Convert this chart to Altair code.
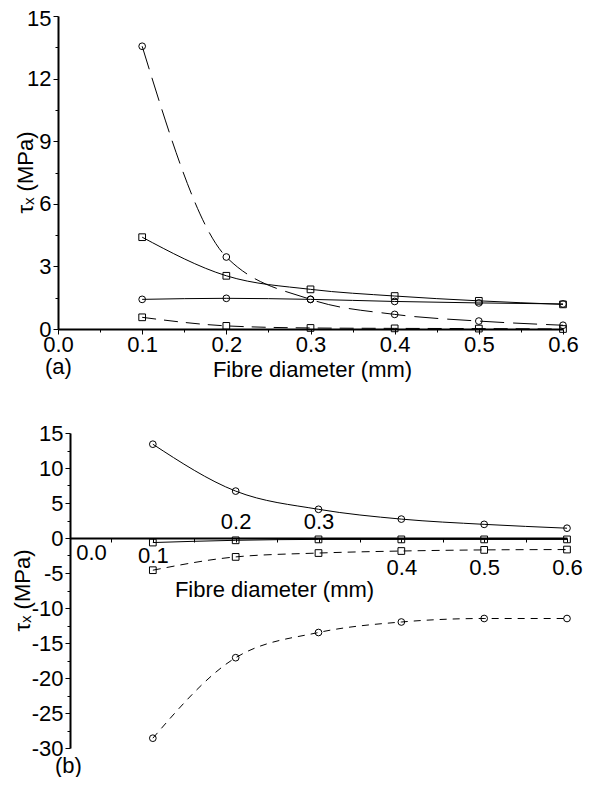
import altair as alt
import pandas as pd

FONT = "Liberation Sans"
FS = 22

diameter = [0.1, 0.2, 0.3, 0.4, 0.5, 0.6]

# panel (a)
a_circle_dashed = [13.55, 3.45, 1.42, 0.70, 0.38, 0.18]
a_square_solid = [4.40, 2.55, 1.90, 1.58, 1.35, 1.18]
a_circle_solid = [1.42, 1.47, 1.42, 1.32, 1.25, 1.20]
a_square_dashed = [0.56, 0.15, 0.05, 0.03, 0.02, 0.00]

# panel (b)
b_circle_solid = [13.4, 6.7, 4.1, 2.7, 1.95, 1.4]
b_square_solid = [-0.65, -0.33, -0.2, -0.2, -0.2, -0.2]
b_square_dashed = [-4.6, -2.7, -2.15, -1.86, -1.7, -1.65]
b_circle_dashed = [-28.6, -17.1, -13.5, -12.0, -11.5, -11.5]

x_ticks = [0, 0.05, 0.1, 0.15, 0.2, 0.25, 0.3, 0.35, 0.4, 0.45, 0.5, 0.55, 0.6]
a_y_ticks = [0, 1.5, 3, 4.5, 6, 7.5, 9, 10.5, 12, 13.5, 15]
b_y_ticks = [-30, -27.5, -25, -22.5, -20, -17.5, -15, -12.5, -10, -7.5, -5, -2.5,
             0, 2.5, 5, 7.5, 10, 12.5, 15]

title_txt = "Fibre diameter (mm)"
y_title = "τₓ (MPa)"


def long_df(series):
    rows = []
    for name, vals in series.items():
        for d, v in zip(diameter, vals):
            rows.append({"d": d, "tau": v, "s": name})
    return pd.DataFrame(rows)


dfa = long_df({"c_dash": a_circle_dashed, "s_solid": a_square_solid,
               "c_solid": a_circle_solid, "s_dash": a_square_dashed})
dfb = long_df({"c_solid": b_circle_solid, "s_solid": b_square_solid,
               "s_dash": b_square_dashed, "c_dash": b_circle_dashed})

common_axis = dict(grid=False, domainColor="black", domainWidth=2, tickColor="black",
                   tickWidth=1, labelColor="black", labelFont=FONT, labelFontSize=FS,
                   titleFont=FONT, titleFontSize=FS, titleFontWeight="normal",
                   titleColor="black")

major_x = "round(datum.value*100) % 10 === 0"

# ---- top panel
xa = alt.X("d:Q", scale=alt.Scale(domain=[0, 0.6], nice=False),
           axis=alt.Axis(values=x_ticks,
                         labelExpr=f"{major_x} ? format(datum.value, '.1f') : ''",
                         tickSize={"condition": {"test": major_x, "value": 5}, "value": 3},
                         labelPadding=0, labelFlush=False, labelOverlap=False,
                         title=title_txt, titleBaseline="middle", titleAlign="center",
                         titleX=254, titleY=40, **common_axis))
ya = alt.Y("tau:Q", scale=alt.Scale(domain=[0, 15], nice=False),
           axis=alt.Axis(values=a_y_ticks,
                         labelExpr="datum.value % 3 === 0 ? '' + datum.value : ''",
                         tickSize={"condition": {"test": "datum.value % 3 === 0", "value": 5}, "value": 3},
                         labelOffset={"condition": {"test": "datum.value === 15", "value": 2}, "value": 0},
                         labelPadding=2, labelFlush=False, labelOverlap=False,
                         title=y_title, titleAngle=270, titleBaseline="middle",
                         titleAlign="center", titleX=-33, titleY=156, **common_axis))

# ---- bottom panel
xb = alt.X("d:Q", scale=alt.Scale(domain=[0, 0.6], range=[12, 509], nice=False),
           axis=alt.Axis(values=x_ticks,
                         labelExpr=f"{major_x} ? format(datum.value, '.1f') : ''",
                         tickSize=4, offset=-210,
                         labelPadding={"condition": [
                             {"test": "datum.value < 0.01", "value": 0},
                             {"test": "datum.value < 0.15", "value": 3},
                             {"test": "datum.value < 0.35", "value": -31}],
                             "value": 15},
                         labelOffset={"condition": {"test": "datum.value < 0.01", "value": 21}, "value": 0},
                         labelFlush=False, labelOverlap=False,
                         title=title_txt, titleBaseline="middle", titleAlign="center",
                         titleX=216, titleY=51, **common_axis))
yb = alt.Y("tau:Q", scale=alt.Scale(domain=[-30, 15], nice=False),
           axis=alt.Axis(values=b_y_ticks, offset=-12,
                         labelExpr="datum.value % 5 === 0 ? '' + datum.value : ''",
                         tickSize={"condition": {"test": "datum.value % 5 === 0", "value": 5}, "value": 3},
                         labelPadding=2, labelFlush=False, labelOverlap=False,
                         title=y_title, titleAngle=270, titleBaseline="middle",
                         titleAlign="center", titleX=-48, titleY=157, **common_axis))


def panel(df, xe, ye, specs):
    layers = []
    for name, shape, dash in specs:
        base = alt.Chart(df).transform_filter(alt.datum.s == name).encode(x=xe, y=ye)
        kw = {"color": "black", "strokeWidth": 1, "interpolate": "monotone"}
        if dash:
            kw["strokeDash"] = dash
        layers.append(base.mark_line(**kw))
        layers.append(base.mark_point(shape=shape, filled=False, color="black",
                                      size=45, strokeWidth=1, opacity=1))
    return alt.layer(*layers)


top = panel(dfa, xa, ya, [("c_dash", "circle", [24, 9]),
                          ("s_solid", "square", None),
                          ("c_solid", "circle", None),
                          ("s_dash", "square", [14, 8])]).properties(
    width=505, height=313,
    title=alt.TitleParams("(a)", orient="bottom", anchor="start", frame="group",
                          dx=-13, offset=-23, font=FONT, fontSize=FS,
                          fontWeight="normal", color="black"))

bottom = panel(dfb, xb, yb, [("c_solid", "circle", None),
                             ("s_solid", "square", None),
                             ("s_dash", "square", [8, 6]),
                             ("c_dash", "circle", [7, 6])]).properties(
    width=509, height=315,
    title=alt.TitleParams("(b)", orient="bottom", anchor="start", frame="group",
                          dx=-3, offset=-3, font=FONT, fontSize=FS,
                          fontWeight="normal", color="black"))

chart = alt.vconcat(top, bottom, spacing=42).properties(
    padding={"left": 3, "top": -1, "right": 0, "bottom": 0},
    background="white").configure_view(stroke=None)

chart.save("out.html", embed_options={"renderer": "svg", "actions": False})
